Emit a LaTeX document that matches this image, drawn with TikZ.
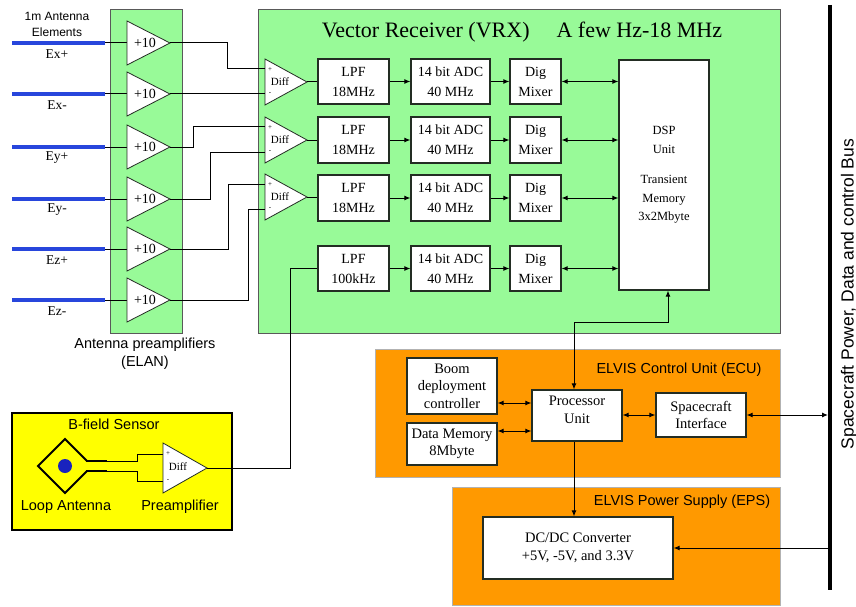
\documentclass[tikz,border=0pt]{standalone}
\usepackage{fontspec}
\setmainfont{Liberation Serif}
\setsansfont{Liberation Sans}
\usetikzlibrary{arrows.meta,calc}
\definecolor{vgreen}{RGB}{152,250,152}
\definecolor{vorange}{RGB}{255,153,0}
\definecolor{vyellow}{RGB}{255,255,0}
\definecolor{vblue}{RGB}{40,70,220}
\definecolor{vnavy}{RGB}{25,35,190}
\definecolor{edgec}{RGB}{35,45,35}
\begin{document}
\begin{tikzpicture}[x=1pt,y=-1pt,
  wbox/.style={draw=edgec,line width=1.2pt,fill=white,inner sep=0pt,align=center,font=\fontsize{14}{20}\selectfont},
  ebox/.style={wbox,font=\fontsize{14.5}{17.5}\selectfont},
  conn/.style={draw=black,line width=1pt},
  arr/.style={conn,-{Latex[length=6pt,width=5pt]}},
  darr/.style={conn,{Latex[length=6pt,width=5pt]}-{Latex[length=6pt,width=5pt]}},
  amp/.style={draw=edgec,line width=0.8pt,fill=white},
  lbl/.style={font=\sffamily\fontsize{14.5}{18}\selectfont,inner sep=0pt,align=center},
  elbl/.style={font=\fontsize{13.5}{16}\selectfont,inner sep=0pt},
  ampt/.style={font=\fontsize{14}{16}\selectfont,inner sep=0pt},
  difft/.style={font=\fontsize{11}{13}\selectfont,inner sep=0pt},
  pmt/.style={font=\fontsize{7}{8}\selectfont,inner sep=0pt},
  antline/.style={draw=vblue,line width=4pt},
  gcont/.style={fill=vgreen,draw=gray!70!black,line width=0.6pt},
  ocont/.style={fill=vorange,draw=gray!60,line width=0.6pt},
]
\useasboundingbox (0,0) rectangle (856,607);
\fill[white] (0,0) rectangle (856,607);

% containers
\draw[gcont] (110,9) rectangle (182,333);
\draw[gcont] (258,9) rectangle (780,333);
\draw[ocont] (375,349) rectangle (780,477);
\draw[ocont] (452,487) rectangle (780,605);
\draw[fill=vyellow,draw=black,line width=1.6pt] (12,413) rectangle (232,530);

% titles and labels
\node[font=\fontsize{22}{26}\selectfont,inner sep=0pt] (title) at (522,32) {Vector Receiver (VRX)\hspace{27pt}A few Hz-18 MHz};
\node[font=\sffamily\fontsize{12}{16}\selectfont,inner sep=0pt,align=center] (antcap) at (57,24) {1m Antenna\\Elements};
\node[lbl] (elan) at (145,354) {Antenna preamplifiers\\(ELAN)};
\node[lbl] (ecut) at (679,370) {ELVIS Control Unit (ECU)};
\node[lbl] (epst) at (682,502) {ELVIS Power Supply (EPS)};
\node[lbl] (bft) at (114,424) {B-field Sensor};
\node[lbl] (loopt) at (66,507) {Loop Antenna};
\node[lbl] (pret) at (180,507) {Preamplifier};
\node[font=\sffamily\fontsize{17.5}{20}\selectfont,inner sep=0pt,rotate=90] (bust) at (849,294) {Spacecraft Power, Data and control Bus};

% antenna elements and preamplifiers
\foreach \y/\t [count=\i] in {43/Ex+,94/Ex-,147/Ey+,199/Ey-,249/Ez+,300/Ez-} {
  \coordinate (ant\i) at (105,\y);
  \coordinate (pin\i) at (127,\y);
  \coordinate (pout\i) at (170,\y);
  \draw[antline] (12,\y) -- (ant\i);
  \draw[conn] (ant\i) -- (pin\i);
  \draw[amp] (127,\y-22) -- (pout\i) -- (127,\y+22) -- cycle;
  \node[ampt] (amp\i) at (145,\y) {+10};
  \node[elbl] (el\i) at (57,\y+11) {\t};
}

% diff amplifiers in VRX
\foreach \c [count=\i] in {82,140,197} {
  \coordinate (dplus\i) at (265,\c-13);
  \coordinate (dminus\i) at (265,\c+12);
  \coordinate (dout\i) at (307,\c);
  \draw[amp] (265,\c-23) -- (dout\i) -- (265,\c+23) -- cycle;
  \node[difft] (dt\i) at (280,\c) {Diff};
  \node[pmt] (dp\i) at (270,\c-12) {+};
  \node[pmt] (dm\i) at (270,\c+12) {-};
}
\draw[conn] (pout1) -- ++(57,0) |- (dplus1);
\draw[conn] (pout2) -- (dminus1);
\draw[conn] (pout3) -- ++(23,0) |- (dplus2);
\draw[conn] (pout4) -- ++(40,0) |- (dminus2);
\draw[conn] (pout5) -- ++(58,0) |- (dplus3);
\draw[conn] (pout6) -- ++(78,0) |- (dminus3);

% VRX chain
\foreach \yc/\h/\lp [count=\i] in {81.5/45/18MHz,140/46/18MHz,198/46/18MHz,268.5/45/100kHz} {
  \node[wbox,minimum width=71pt,minimum height=\h pt] (lpf\i) at (353.5,\yc) {LPF\\\lp};
  \node[wbox,minimum width=79pt,minimum height=\h pt] (adc\i) at (450.5,\yc) {14 bit ADC\\40 MHz};
  \node[wbox,minimum width=51pt,minimum height=\h pt] (mix\i) at (535.5,\yc) {Dig\\Mixer};
  \draw[arr] (lpf\i) -- (adc\i);
  \draw[arr] (adc\i) -- (mix\i);
}
\foreach \i in {1,2,3} { \draw[conn] (dout\i) -- (dout\i -| lpf\i.west); }

\node[wbox,minimum width=90pt,minimum height=230pt,font=\fontsize{12.5}{18.5}\selectfont] (dsp) at (664,175) {DSP\\Unit\\[12pt]Transient\\Memory\\3x2Mbyte};
\foreach \i in {1,2,3,4} { \draw[darr] (mix\i.east) -- (mix\i.east -| dsp.west); }

% B-field sensor
\draw[black,line width=1.8pt] (87,461) -- (65,439) -- (38,466) -- (65,493) -- (87,471);
\draw[black,line width=1.8pt] (86,461) -- (107,461);
\draw[black,line width=1.8pt] (86,471) -- (107,471);
\fill[vnavy] (65,466) circle (7);
\coordinate (bplus) at (163,454);
\coordinate (bminus) at (163,481);
\coordinate (bout) at (207,468);
\draw[conn] (107,461) -- (137,461) |- (bplus);
\draw[conn] (107,471) -- (137,471) |- (bminus);
\draw[amp] (163,443) -- (bout) -- (163,493) -- cycle;
\node[difft] (bdt) at (178,467) {Diff};
\node[pmt] (bdp) at (168,454) {+};
\node[pmt] (bdm) at (168,481) {-};
\draw[conn] (bout) -- ++(83,0) |- (lpf4.west);

% ECU
\node[ebox,minimum width=90pt,minimum height=56pt] (boom) at (452,386) {Boom\\deployment\\controller};
\node[ebox,minimum width=90pt,minimum height=42pt] (data) at (452,444) {Data Memory\\8Mbyte};
\node[ebox,minimum width=90pt,minimum height=51pt] (proc) at (577,415.5) {};
\node[font=\fontsize{14.5}{17.5}\selectfont,align=center,inner sep=0pt] (proct) at (577,410) {Processor\\Unit};
\node[ebox,minimum width=90pt,minimum height=44pt] (sci) at (701,415) {Spacecraft\\Interface};
\node[ebox,minimum width=190pt,minimum height=62pt] (dcdc) at (578,548) {DC/DC Converter\\+5V, -5V, and 3.3V};

% bus
\coordinate (busT) at (830,5);
\coordinate (busB) at (830,590);
\coordinate (busE) at (828,5);
\draw[black,line width=4pt] (busT) -- (busB);

% ECU connectors
\coordinate (dspb) at ($(dsp.south)+(4,0)$);
\coordinate (proctop) at ($(proc.north)+(-3,0)$);
\coordinate (procbot) at ($(proc.south)+(-3,0)$);
\draw[darr] (dspb) -- ++(0,32) -| (proctop);
\coordinate (bm) at ($(boom.east)+(0,17)$);
\draw[darr] (bm) -- (bm -| proc.west);
\coordinate (dm) at ($(data.east)+(0,-13)$);
\draw[darr] (dm) -- (dm -| proc.west);
\draw[darr] (sci.west -| proc.east) -- (sci.west);
\draw[darr] (sci.east) -- (sci.east -| busE);
\draw[arr] (procbot) -- (procbot |- dcdc.north);
\draw[arr] (dcdc.east -| busE) -- (dcdc.east);
\end{tikzpicture}
\end{document}
